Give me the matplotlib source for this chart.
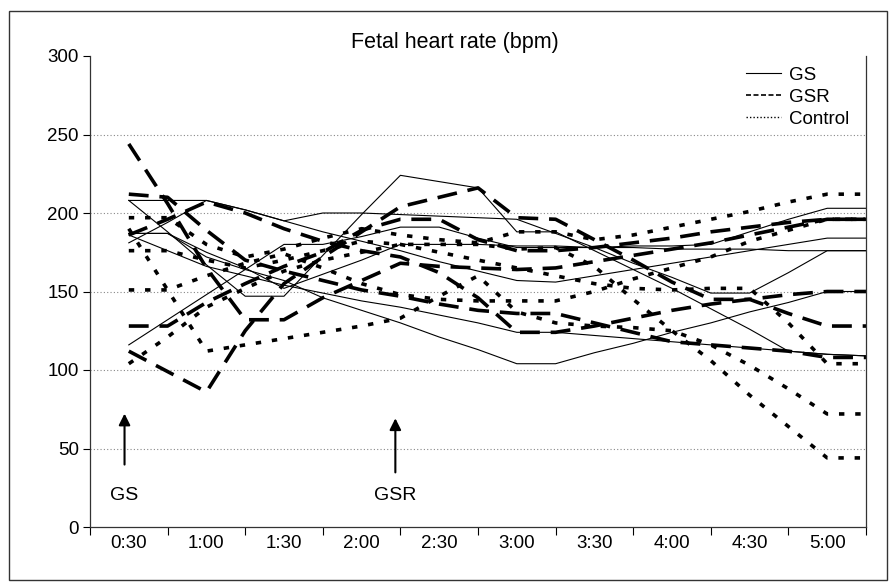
import matplotlib
matplotlib.use("Agg")
import matplotlib.pyplot as plt
from matplotlib.lines import Line2D
from matplotlib.patches import Rectangle
import numpy as np

plt.rcParams['font.family'] = ['Liberation Sans', 'DejaVu Sans']

# axis labels
times = ['0:30', '1:00', '1:30', '2:00', '2:30', '3:00', '3:30', '4:00', '4:30', '5:00']

# readings every 15 min (20 per fetus), bpm
# GS group (thin solid)
gs1 = [208, 208, 208, 202, 195, 200, 200, 199, 198, 197, 196, 187, 178, 168, 159, 149, 149, 162, 176, 176]
gs2 = [208, 188, 167, 147, 147, 173, 199, 224, 220, 216, 188, 188, 176, 164, 152, 139, 126, 112, 110, 109]
gs3 = [181, 194, 208, 202, 195, 188, 182, 176, 169, 163, 157, 156, 160, 164, 168, 172, 176, 180, 184, 184]
gs4 = [187, 187, 172, 164, 157, 146, 138, 130, 121, 113, 104, 104, 111, 117, 124, 130, 137, 143, 150, 150]
gs5 = [186, 176, 166, 160, 154, 149, 144, 140, 135, 130, 124, 124, 122, 120, 118, 116, 114, 112, 110, 109]
gs6 = [116, 132, 148, 164, 180, 180, 185, 191, 191, 184, 178, 178, 178, 179, 179, 180, 188, 196, 203, 203]
gs7 = [187, 187, 175, 165, 152, 161, 170, 180, 180, 180, 179, 179, 178, 178, 177, 177, 177, 176, 176, 176]

# GSR group (long dashes)
gsr1 = [244, 206, 165, 132, 132, 146, 157, 168, 166, 165, 164, 165, 169, 173, 177, 181, 186, 191, 196, 196]
gsr2 = [212, 210, 189, 170, 163, 157, 151, 147, 142, 138, 136, 136, 130, 124, 118, 116, 114, 112, 108, 108]
gsr3 = [186, 196, 207, 200, 190, 182, 176, 172, 162, 146, 124, 124, 128, 133, 138, 142, 145, 148, 150, 150]
gsr4 = [128, 128, 143, 155, 166, 175, 189, 196, 196, 183, 176, 176, 178, 181, 184, 188, 191, 194, 196, 196]
gsr5 = [112, 99, 86, 125, 155, 172, 188, 204, 210, 216, 197, 196, 183, 170, 156, 145, 145, 136, 128, 128]

# Control group (dots)
ctl1 = [197, 197, 180, 172, 177, 184, 190, 186, 183, 181, 188, 188, 183, 186, 191, 196, 201, 207, 212, 212]
ctl2 = [190, 151, 112, 116, 120, 124, 128, 133, 147, 160, 137, 130, 128, 127, 125, 116, 103, 88, 72, 72]
ctl3 = [176, 176, 170, 165, 170, 176, 182, 180, 175, 170, 165, 160, 155, 152, 151, 152, 152, 130, 104, 104]
ctl4 = [151, 151, 160, 168, 174, 165, 155, 148, 145, 144, 144, 144, 150, 158, 165, 172, 182, 189, 196, 196]
ctl5 = [104, 121, 140, 152, 163, 170, 175, 180, 180, 180, 177, 178, 166, 145, 125, 106, 84, 64, 44, 44]

gs_all = [gs1, gs2, gs3, gs4, gs5, gs6, gs7]
gsr_all = [gsr1, gsr2, gsr3, gsr4, gsr5]
ctl_all = [ctl1, ctl2, ctl3, ctl4, ctl5]

fig = plt.figure(figsize=(8.95, 5.82), dpi=100)
ax = fig.add_axes([90 / 895, 1 - 527 / 582, 776 / 895, 471 / 582])

# outer frame round the whole figure
fig.patches.append(Rectangle((9 / 895, 2 / 582), 878 / 895, 569 / 582, transform=fig.transFigure,
                             fill=False, lw=1.0, ec='#333333'))

x = np.arange(1, 21)
for y in ctl_all:
    ax.plot(x, y, color='black', lw=2.6, dashes=(1.5, 3.0), solid_capstyle='butt', dash_capstyle='butt')
for y in gsr_all:
    ax.plot(x, y, color='black', lw=2.6, dashes=(5.5, 3.0), dash_capstyle='butt')
for y in gs_all:
    ax.plot(x, y, color='black', lw=0.8)

ax.set_xlim(0, 20)
ax.set_ylim(0, 300)
ax.set_yticks(np.arange(0, 301, 50))
ax.set_xticks(np.arange(0, 21, 2))
ax.set_xticklabels([])
ax.set_xticks(np.arange(1, 20, 2), minor=True)
ax.set_xticklabels(times, minor=True)
ax.tick_params(axis='x', which='minor', length=0, pad=6, labelsize=13.5)
ax.tick_params(axis='x', which='major', length=6, direction='out', width=0.8)
ax.tick_params(axis='y', length=5, direction='out', labelsize=13.5, width=0.8, pad=3)

for g in range(50, 251, 50):
    ax.axhline(g, color='#888888', lw=0.8, ls=(0, (1, 2)), zorder=0)

ax.spines['top'].set_visible(False)
for s in ['left', 'bottom', 'right']:
    ax.spines[s].set_color('#333333')
    ax.spines[s].set_linewidth(0.9)

ax.text(0.47, 1.028, 'Fetal heart rate (bpm)', transform=ax.transAxes, ha='center', va='center',
        fontsize=15.5)

# injection markers
ax.annotate('', xy=(0.89, 74), xytext=(0.89, 38),
            arrowprops=dict(arrowstyle='-|>', color='black', lw=1.5, mutation_scale=17))
ax.text(0.89, 20, 'GS', ha='center', va='center', fontsize=14)
ax.annotate('', xy=(7.87, 71), xytext=(7.87, 33),
            arrowprops=dict(arrowstyle='-|>', color='black', lw=1.5, mutation_scale=17))
ax.text(7.87, 20, 'GSR', ha='center', va='center', fontsize=14)

handles = [Line2D([], [], color='black', lw=0.8),
           Line2D([], [], color='black', lw=1.2, dashes=(3, 1.5)),
           Line2D([], [], color='black', lw=1.0, dashes=(1, 1.5))]
ax.legend(handles, ['GS', 'GSR', 'Control'], loc='upper right', frameon=False, fontsize=13.5,
          handlelength=1.9, handletextpad=0.4, labelspacing=0.25, borderaxespad=0.3,
          bbox_to_anchor=(0.995, 1.005))

fig.savefig('out.png', dpi=100)
